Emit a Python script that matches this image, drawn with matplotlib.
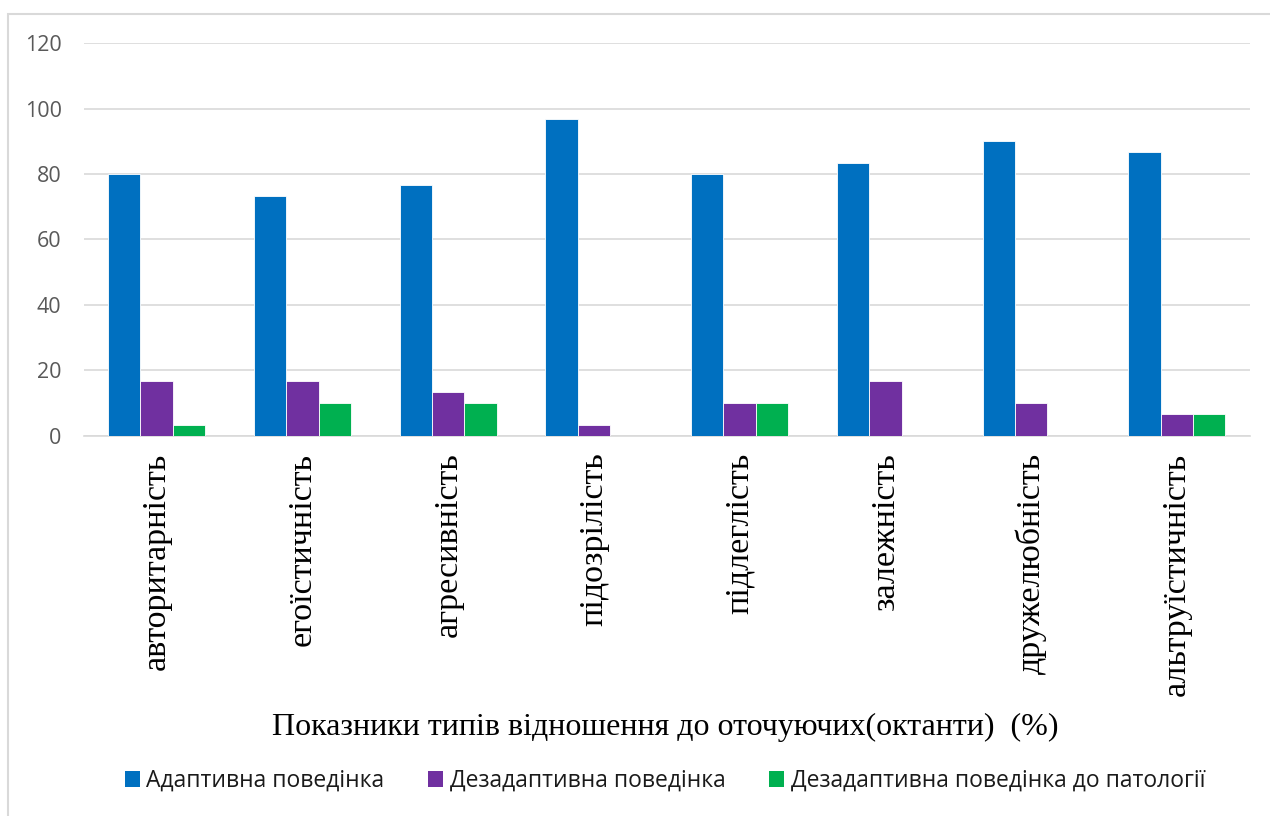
import numpy as np
import matplotlib
matplotlib.use("Agg")
import matplotlib.pyplot as plt
from matplotlib.patches import Rectangle, Patch

categories = ["авторитарність", "егоїстичність", "агресивність", "підозрілість",
              "підлеглість", "залежність", "дружелюбність", "альтруїстичність"]
adaptive = [80, 73.3, 76.7, 96.7, 80, 83.3, 90, 86.7]
maladaptive = [16.7, 16.7, 13.3, 3.3, 10, 16.7, 10, 6.7]
pathology = [3.3, 10, 10, 0, 10, 0, 0, 6.7]
series_names = ["Адаптивна поведінка", "Дезадаптивна поведінка",
                "Дезадаптивна поведінка до патології"]
colors = ["#0070C0", "#7030A0", "#00B050"]

fig = plt.figure(figsize=(12.7, 8.16), dpi=100)

# chart-area frame (runs off the right and bottom edges)
fig.patches.append(Rectangle((8 / 1270, -0.05), 1.2, 1 - 13.5 / 816 + 0.05,
                             transform=fig.transFigure, fill=False,
                             edgecolor="#D9D9D9", linewidth=1.5, zorder=0))

ax = fig.add_axes([0.066, 0.4657, 0.918, 0.4816])

x = np.arange(len(categories))
w = 1 / 4.5
for i, (vals, c) in enumerate(zip([adaptive, maladaptive, pathology], colors)):
    ax.bar(x + (i - 1) * w, vals, width=w, color=c, edgecolor="white",
           linewidth=0.6, zorder=3)

ax.set_xlim(-0.5, len(categories) - 0.5)
ax.set_ylim(0, 120)
ax.set_yticks(range(0, 121, 20))
ax.yaxis.grid(True, color="#D9D9D9", linewidth=1.2, zorder=0)
for s in ["top", "right", "left"]:
    ax.spines[s].set_visible(False)
ax.spines["bottom"].set_color("#D9D9D9")
ax.spines["bottom"].set_linewidth(1.2)
ax.tick_params(axis="both", length=0)
ax.tick_params(axis="y", labelsize=15.5, labelcolor="#595959", pad=16)
for t in ax.get_yticklabels():
    t.set_family("Open Sans")

ax.set_xticks(x)
ax.set_xticklabels(categories, rotation=90, family="Liberation Serif", fontsize=24.5,
                   va="top", ha="center")
ax.tick_params(axis="x", pad=12)

fig.text(0.524, 1 - 735 / 816, "Показники типів відношення до оточуючих(октанти)  (%)",
         family="Liberation Serif", fontsize=23, ha="center", va="baseline")

handles = [Patch(facecolor=c, edgecolor="none") for c in colors]
fig.legend(handles, series_names, loc="center", bbox_to_anchor=(0.5236, 1 - 781 / 816),
           ncol=3, frameon=False, handlelength=0.65, handleheight=0.65,
           handletextpad=0.3, columnspacing=1.9,
           prop={"family": "Open Sans", "size": 16.5}, labelcolor="#1a1a1a")

fig.savefig("out.png", dpi=100)
